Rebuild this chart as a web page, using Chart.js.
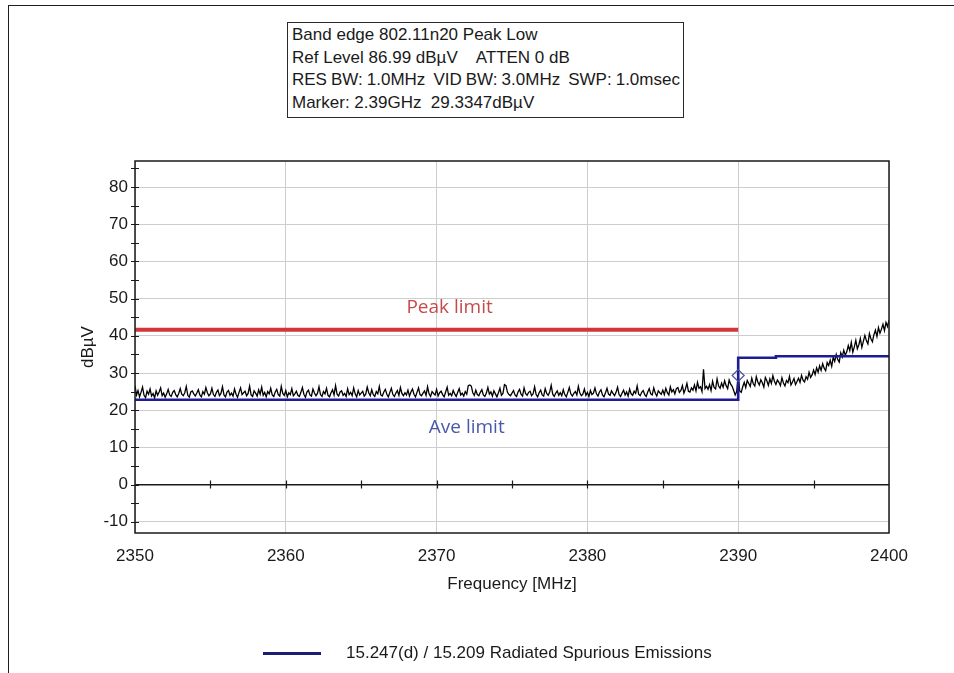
<!DOCTYPE html>
<html>
<head>
<meta charset="utf-8">
<title>Band edge 802.11n20 Peak Low</title>
<script src="https://cdn.jsdelivr.net/npm/chart.js@4.4.1/dist/chart.umd.min.js"></script>
<style>
  html, body { margin: 0; padding: 0; background: #fff; }
  #wrap { position: relative; width: 954px; height: 673px; overflow: hidden;
          font-family: "Liberation Sans", Arial, sans-serif; color: #1a1a1a; }
  #frame { position: absolute; left: 8px; top: 5px; width: 960px; height: 700px;
           border-left: 1.5px solid #1e1e1e; border-top: 1.5px solid #1e1e1e; }
  #cv { position: absolute; left: 0; top: 0; }
  #info { position: absolute; left: 287px; top: 22px; width: 397px; height: 96px;
          box-sizing: border-box; border: 1px solid #2a2a2a; background: #fff;
          padding: 1px 0 0 4px; font-size: 17px; line-height: 22.5px; }
  #info div { white-space: pre; }
  #info .tight { word-spacing: -0.7px; }
  #legend { position: absolute; left: 263px; top: 641px; height: 24px; }
  #legend .swatch { position: absolute; left: 0; top: 11px; width: 58px; height: 3px; background: #1c1c72; }
  #legend .label { position: absolute; left: 83px; top: 0; font-size: 17px; line-height: 24px; white-space: nowrap; }
</style>
</head>
<body>
<div id="wrap">
  <div id="frame"></div>
  <canvas id="cv" width="954" height="673"></canvas>
  <div id="info">
    <div>Band edge 802.11n20 Peak Low</div>
    <div>Ref Level 86.99 dBµV    ATTEN 0 dB</div>
    <div class="tight">RES BW: 1.0MHz  VID BW: 3.0MHz  SWP: 1.0msec</div>
    <div>Marker: 2.39GHz  29.3347dBµV</div>
  </div>
  <div id="legend"><div class="swatch"></div><div class="label">15.247(d) / 15.209 Radiated Spurious Emissions</div></div>
</div>
<script>
// Axis ranges and tick positions
const freqRange = [2350, 2400];          // MHz
const levelRange = [-13.01, 86.99];      // dBµV (ref level 86.99, 100 dB span)
const xTickValues = [2350, 2360, 2370, 2380, 2390, 2400];
const yTickValues = [-10, 0, 10, 20, 30, 40, 50, 60, 70, 80];
const xMinorTicks = [2355, 2360, 2365, 2370, 2375, 2380, 2385, 2390, 2395];
const yMinorTicks = [-10, -5, 0, 5, 10, 15, 20, 25, 30, 35, 40, 45, 50, 55, 60, 65, 70, 75, 80, 85];

// Limit lines
const peakLimitFreqs  = [2350, 2390];
const peakLimitLevels = [41.6, 41.6];
const aveLimitFreqs   = [2350, 2390, 2390, 2392.5, 2392.5, 2400];
const aveLimitLevels  = [22.8, 22.8, 34.1, 34.1, 34.5, 34.5];

// Marker
const markerFreqs  = [2390];
const markerLevels = [29.3347];

// Measured sweep: 501 points, 2350.0 .. 2400.0 MHz at 0.1 MHz spacing (one row per MHz)
const sweepStart = 2350;
const sweepStep = 0.1;
const traceLevels = [
  26.6, 24.1, 25.3, 23.6, 24.8, 26.2, 24.0, 23.4, 25.1, 24.3,
  25.7, 23.8, 24.5, 23.3, 25.2, 24.0, 24.9, 26.0, 23.9, 24.6,
  23.5, 24.4, 25.6, 24.1, 23.7, 24.8, 25.3, 24.2, 23.6, 24.5,
  25.8, 24.3, 23.9, 24.7, 26.4, 24.0, 23.5, 24.9, 25.2, 24.4,
  23.8, 24.6, 25.5, 24.1, 23.6, 25.0, 24.3, 26.1, 24.7, 23.9,
  24.4, 25.9, 24.2, 23.7, 24.8, 25.4, 23.9, 24.5, 26.3, 24.1,
  23.6, 24.9, 25.3, 24.0, 24.6, 23.8, 25.7, 24.3, 23.5, 24.8,
  26.0, 24.2, 24.7, 25.1, 23.9, 24.5, 26.5, 24.1, 23.7, 25.2,
  24.6, 23.8, 25.5, 24.3, 26.2, 24.0, 24.8, 23.6, 25.0, 24.4,
  25.9, 24.1, 23.7, 24.9, 25.6, 24.2, 23.8, 26.4, 24.5, 24.0,
  25.3, 23.6, 24.7, 24.2, 25.8, 23.9, 24.4, 25.1, 24.0, 23.7,
  24.8, 26.1, 24.3, 23.5, 24.9, 25.4, 24.1, 23.8, 25.7, 24.6,
  23.9, 24.5, 26.3, 24.2, 23.7, 25.0, 24.4, 25.9, 24.0, 23.6,
  24.7, 25.5, 24.1, 26.6, 24.3, 23.8, 24.9, 25.2, 24.0, 24.5,
  23.7, 25.8, 24.2, 24.8, 23.9, 26.0, 24.4, 23.6, 25.3, 24.1,
  24.6, 25.1, 23.8, 24.3, 26.2, 24.7, 23.9, 25.5, 24.2, 23.7,
  25.0, 24.4, 26.4, 24.1, 23.8, 24.9, 25.6, 24.3, 23.6, 24.8,
  25.9, 24.2, 23.7, 24.6, 25.3, 24.0, 26.1, 24.5, 23.9, 24.7,
  24.1, 25.4, 23.8, 24.9, 25.7, 24.3, 23.6, 24.8, 26.0, 24.2,
  23.9, 24.6, 25.2, 24.0, 26.3, 24.4, 23.7, 25.0, 24.5, 24.1,
  25.6, 23.8, 24.7, 25.1, 24.2, 23.6, 24.9, 26.2, 24.0, 24.5,
  23.9, 25.3, 24.4, 23.7, 24.8, 25.8, 24.1, 24.6, 23.8, 25.0,
  24.3, 26.6, 26.8, 26.5, 24.7, 24.0, 25.4, 24.2, 23.9, 24.8,
  25.5, 24.1, 23.7, 24.6, 26.1, 24.3, 24.9, 23.8, 25.2, 24.4,
  23.6, 24.7, 25.9, 24.0, 24.5, 26.9, 26.6, 24.8, 24.2, 23.9,
  24.6, 25.3, 24.1, 23.7, 24.9, 25.6, 24.3, 23.8, 26.0, 24.5,
  24.0, 24.8, 25.1, 23.9, 24.4, 26.3, 24.2, 23.6, 24.7, 25.4,
  24.1, 23.8, 25.8, 24.5, 24.0, 24.9, 26.7, 24.3, 23.7, 24.6,
  25.2, 24.0, 24.7, 23.9, 25.5, 24.2, 23.6, 24.8, 26.1, 24.4,
  23.8, 24.5, 25.0, 24.1, 26.4, 24.6, 23.9, 24.3, 25.7, 24.0,
  24.8, 23.7, 25.3, 24.2, 24.6, 26.0, 24.4, 23.8, 24.9, 25.5,
  24.1, 23.6, 24.7, 25.9, 24.3, 24.0, 25.2, 24.5, 23.9, 24.8,
  26.2, 24.2, 23.7, 24.6, 25.4, 24.1, 24.9, 23.8, 25.7, 24.4,
  24.0, 25.1, 24.5, 26.5, 24.3, 23.9, 24.8, 25.3, 24.2, 23.7,
  24.9, 25.8, 24.4, 24.1, 26.0, 24.6, 23.8, 25.2, 24.7, 24.3,
  25.4, 24.2, 25.9, 24.7, 24.1, 26.3, 24.9, 25.5, 24.4, 25.8,
  26.1, 24.8, 25.3, 26.6, 24.6, 25.7, 27.2, 25.1, 24.9, 26.0,
  25.4, 26.8, 25.2, 27.5, 25.9, 26.3, 25.0, 31.0, 25.8, 26.4,
  25.6, 26.9, 25.3, 27.8, 26.1, 25.7, 28.4, 26.5, 25.9, 27.3,
  26.2, 27.9, 26.6, 25.8, 28.1, 27.0, 26.4, 25.3, 24.1, 25.0,
  29.3, 25.2, 24.8, 26.3, 27.5, 26.1, 28.0, 27.2, 26.4, 28.6,
  27.1, 26.5, 29.0, 27.6, 26.8, 28.2, 27.4, 26.2, 28.8, 27.9,
  26.7, 28.4, 27.2, 29.3, 27.8, 26.9, 28.1, 27.5, 26.6, 28.7,
  27.3, 26.5, 28.0, 27.4, 29.1, 26.8, 27.6, 28.5, 26.9, 27.7,
  28.6, 27.5, 29.4, 28.1, 27.6, 29.0, 28.3, 30.2, 28.8, 29.5,
  30.8, 29.6, 31.4, 30.2, 31.9, 30.7, 32.5, 31.3, 30.6, 32.8,
  32.0, 33.4, 31.8, 34.2, 33.1, 35.0, 33.6, 32.9, 35.4, 34.3,
  36.1, 34.8, 35.7, 37.4, 36.0, 38.2, 35.6, 37.0, 38.8, 36.5,
  37.6, 39.3, 36.9, 38.5, 40.1, 38.7, 37.8, 40.6, 39.2, 38.4,
  40.3, 41.5, 39.8, 42.2, 40.7, 41.8, 43.1, 41.4, 43.6, 42.5,
  44.2
];

const pts = (xs, ys) => xs.map((x, i) => ({ x, y: ys[i] }));
const traceFreqs = traceLevels.map((_, i) => +(sweepStart + i * sweepStep).toFixed(1));

const FONT = '"Liberation Sans", Arial, sans-serif';
const TEXT = '#1a1a1a';

// Plot frame, axis tick marks crossing the axes, and in-plot limit captions
const decorations = {
  id: 'decorations',
  beforeDatasetsDraw(chart) {
    const { ctx, chartArea: a, scales: { x, y } } = chart;
    ctx.save();
    ctx.strokeStyle = '#1a1a1a';
    ctx.lineWidth = 1.2;
    ctx.beginPath();
    // y-axis minor ticks, crossing the left axis
    yMinorTicks.forEach(v => {
      const py = Math.round(y.getPixelForValue(v)) + 0.5;
      ctx.moveTo(a.left - 4, py); ctx.lineTo(a.left + 4, py);
    });
    // ticks along the 0 dBµV line
    const y0 = y.getPixelForValue(0);
    xMinorTicks.forEach(v => {
      const px = Math.round(x.getPixelForValue(v)) + 0.5;
      ctx.moveTo(px, y0 - 4); ctx.lineTo(px, y0 + 4);
    });
    ctx.stroke();
    ctx.restore();
  },
  afterDatasetsDraw(chart) {
    const { ctx, chartArea: a, scales: { x, y } } = chart;
    ctx.save();
    ctx.strokeStyle = '#1a1a1a';
    ctx.lineWidth = 1.5;
    ctx.strokeRect(a.left, a.top, a.right - a.left, a.bottom - a.top);
    ctx.font = '19px "Open Sans", "Noto Sans", sans-serif';
    ctx.textAlign = 'center';
    ctx.textBaseline = 'middle';
    ctx.fillStyle = '#c64a4a';
    ctx.fillText('Peak limit', x.getPixelForValue(2370.86), y.getPixelForValue(47.7));
    ctx.fillStyle = '#4a58aa';
    ctx.fillText('Ave limit', x.getPixelForValue(2372.0), y.getPixelForValue(15.2));
    ctx.restore();
  }
};

new Chart(document.getElementById('cv'), {
  type: 'line',
  data: {
    datasets: [
      {
        label: 'Marker',
        type: 'scatter',
        data: pts(markerFreqs, markerLevels),
        pointStyle: 'rectRot',
        pointRadius: 6,
        borderColor: '#4a5096',
        backgroundColor: 'rgba(255,255,255,0)',
        borderWidth: 1.2
      },
      {
        label: '15.247(d) / 15.209 Radiated Spurious Emissions',
        data: pts(aveLimitFreqs, aveLimitLevels),
        borderColor: '#1c1c96',
        borderWidth: 2.6,
        pointRadius: 0,
        tension: 0
      },
      {
        label: 'Peak limit',
        data: pts(peakLimitFreqs, peakLimitLevels),
        borderColor: '#d2363b',
        borderWidth: 4,
        pointRadius: 0,
        tension: 0
      },
      {
        label: 'Trace',
        data: pts(traceFreqs, traceLevels),
        borderColor: '#000',
        borderWidth: 1.3,
        pointRadius: 0,
        tension: 0
      }
    ]
  },
  options: {
    responsive: false,
    animation: false,
    events: [],
    layout: { padding: { left: 0, top: 161, right: 65, bottom: 0 } },
    plugins: { legend: { display: false }, tooltip: { enabled: false } },
    scales: {
      x: {
        type: 'linear',
        min: freqRange[0],
        max: freqRange[1],
        afterBuildTicks: s => { s.ticks = xTickValues.map(v => ({ value: v })); },
        afterFit: s => { s.height = 140; },
        border: { display: false },
        grid: { drawTicks: false, color: '#cdcdcd', lineWidth: 1 },
        ticks: { padding: 13, color: TEXT, font: { family: FONT, size: 17 }, maxRotation: 0, callback: v => String(v) },
        title: { display: true, text: 'Frequency [MHz]', color: TEXT, font: { family: FONT, size: 17 }, padding: { top: 0, bottom: 78 } }
      },
      y: {
        type: 'linear',
        min: levelRange[0],
        max: levelRange[1],
        afterBuildTicks: s => { s.ticks = yTickValues.map(v => ({ value: v })); },
        afterFit: s => { s.width = 135; },
        border: { display: false },
        grid: {
          drawTicks: false,
          color: c => (c.tick && c.tick.value === 0 ? '#1a1a1a' : '#cdcdcd'),
          lineWidth: c => (c.tick && c.tick.value === 0 ? 1.5 : 1)
        },
        ticks: { padding: 7, color: TEXT, font: { family: FONT, size: 17 }, callback: v => String(v) },
        title: { display: true, text: 'dBµV', color: TEXT, font: { family: FONT, size: 17 }, padding: { top: 78, bottom: 0 } }
      }
    }
  },
  plugins: [decorations]
});
</script>
</body>
</html>
